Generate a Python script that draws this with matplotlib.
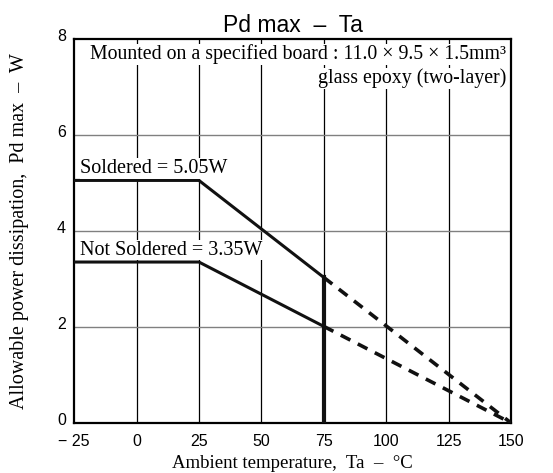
import numpy as np
import matplotlib.pyplot as plt
import matplotlib.transforms as mtransforms

# derating curves (Ta in degC, Pd in W)
solder_x = [-25, 25, 75]
solder_y = [5.05, 5.05, 3.03]
solder_dash_x = [75, 150]
solder_dash_y = [3.03, 0]

nosolder_x = [-25, 25, 75]
nosolder_y = [3.35, 3.35, 2.01]
nosolder_dash_x = [75, 150]
nosolder_dash_y = [2.01, 0]

xticks = [-25, 0, 25, 50, 75, 100, 125, 150]
xtick_labels = ['− 25', '0', '25', '50', '75', '100', '125', '150']
yticks = [0, 2, 4, 6, 8]

serif = 'Liberation Serif'
sans = 'Liberation Sans'

fig = plt.figure(figsize=(5.53, 4.73), dpi=100)
ax = fig.add_axes([0.134, 0.106, 0.790, 0.812])

# grid
for x in xticks[1:-1]:
    ax.axvline(x, color='black', lw=0.9, zorder=1)
for y in yticks[1:-1]:
    ax.axhline(y, color='#808080', lw=1.0, zorder=1)

ax.plot(solder_x, solder_y, color='#111111', lw=2.2, zorder=3)
ax.plot(solder_dash_x, solder_dash_y, color='#111111', lw=2.6, ls=(0, (3, 2.3)), zorder=3)
ax.plot(nosolder_x, nosolder_y, color='#111111', lw=2.2, zorder=3)
ax.plot(nosolder_dash_x, nosolder_dash_y, color='#111111', lw=2.6, ls=(0, (3, 2.3)), zorder=3)
ax.plot([75, 75], [0, solder_y[-1]], color='#111111', lw=3.0, zorder=3)

ax.set_xlim(-25, 150)
ax.set_ylim(0, 8)
ax.set_xticks(xticks)
ax.set_xticklabels(xtick_labels, family=sans, fontsize=11.5)
ax.set_yticks(yticks)
ax.set_yticklabels([str(v) for v in yticks], family=sans, fontsize=11.5)
ax.tick_params(axis='x', length=0, pad=8)
ax.tick_params(axis='y', length=0, pad=6)
shift = mtransforms.ScaledTranslation(0, 3 / 72, fig.dpi_scale_trans)
for lab in ax.get_yticklabels():
    lab.set_transform(lab.get_transform() + shift)
for s in ax.spines.values():
    s.set_linewidth(1.6)

box = dict(facecolor='white', edgecolor='none', pad=0.5)
ax.text(-22.5, 5.10, 'Soldered = 5.05W', family=serif, fontsize=14.5, va='bottom', bbox=box, zorder=4)
ax.text(-22.5, 3.40, 'Not Soldered = 3.35W', family=serif, fontsize=14.5, va='bottom', bbox=box, zorder=4)

ax.text(148, 7.88, 'Mounted on a specified board : 11.0 × 9.5 × 1.5mm³',
        family=serif, fontsize=14.3, ha='right', va='top', bbox=box, zorder=5)
ax.text(148, 7.38, 'glass epoxy (two-layer)',
        family=serif, fontsize=14.3, ha='right', va='top', bbox=box, zorder=5)

ax.set_title('Pd max  –  Ta', family=sans, fontsize=16.5, pad=5)
ax.set_xlabel('Ambient temperature,  Ta  –  °C', family=serif, fontsize=13.5, labelpad=4)
ax.set_ylabel('Allowable power dissipation,  Pd max  –  W', family=serif, fontsize=14.5, labelpad=20)

fig.savefig('out.png', dpi=100)
